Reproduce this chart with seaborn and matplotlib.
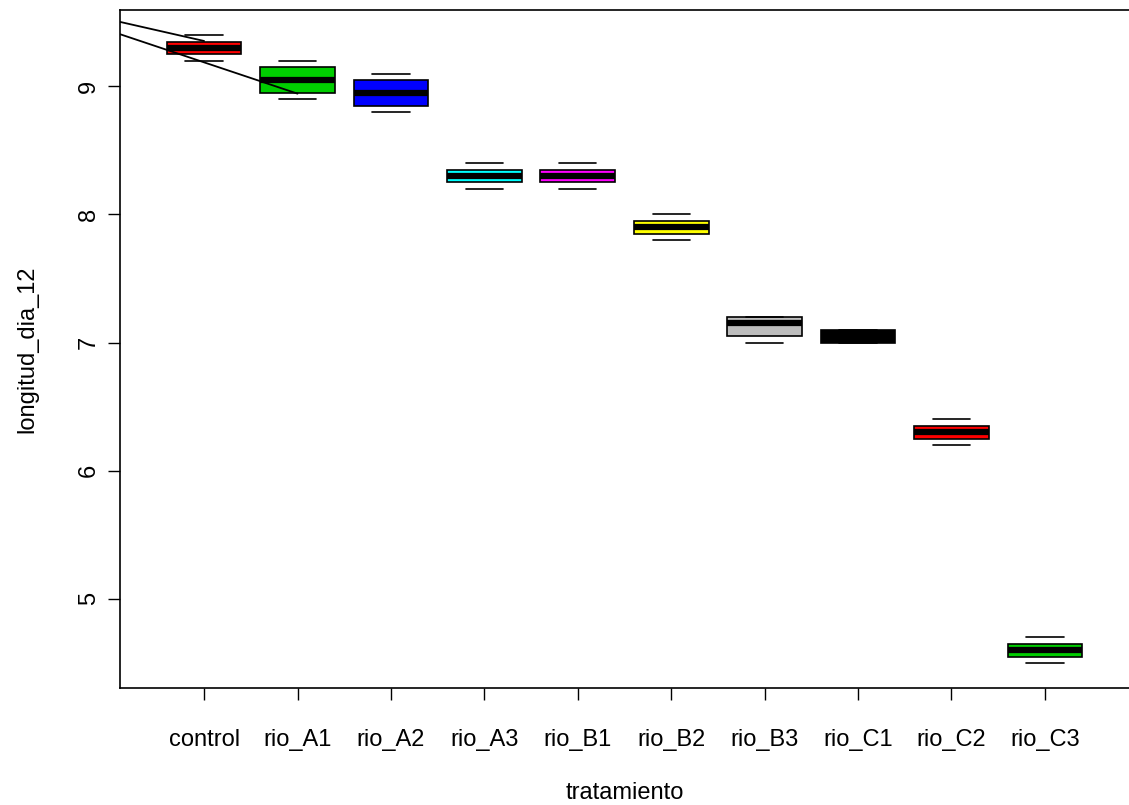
import numpy as np
import pandas as pd
import matplotlib
matplotlib.use("Agg")
import matplotlib.pyplot as plt
import seaborn as sns

# treatments and the five readings per treatment (lower whisker, Q1, median, Q3, upper whisker)
tratamientos = ["control", "rio_A1", "rio_A2", "rio_A3", "rio_B1",
                "rio_B2", "rio_B3", "rio_C1", "rio_C2", "rio_C3"]
control = [9.20, 9.25, 9.30, 9.35, 9.40]
rio_A1 = [8.90, 8.95, 9.05, 9.15, 9.20]
rio_A2 = [8.80, 8.85, 8.95, 9.05, 9.10]
rio_A3 = [8.20, 8.25, 8.30, 8.35, 8.40]
rio_B1 = [8.20, 8.25, 8.30, 8.35, 8.40]
rio_B2 = [7.80, 7.85, 7.90, 7.95, 8.00]
rio_B3 = [7.00, 7.05, 7.15, 7.20, 7.20]
rio_C1 = [7.00, 7.00, 7.05, 7.10, 7.10]
rio_C2 = [6.20, 6.25, 6.30, 6.35, 6.40]
rio_C3 = [4.50, 4.55, 4.60, 4.65, 4.70]

colores = ["#FF0000", "#00CD00", "#0000FF", "#00FFFF", "#FF00FF",
           "#FFFF00", "#BEBEBE", "#000000", "#FF0000", "#00CD00"]

# the two stray lines drawn over the plot (x in category index units)
linea1_x = [-0.9, 0.0]
linea1_y = [9.503, 9.354]
linea2_x = [-0.9, 1.0]
linea2_y = [9.407, 8.943]

valores = [control, rio_A1, rio_A2, rio_A3, rio_B1, rio_B2, rio_B3, rio_C1, rio_C2, rio_C3]
df = pd.DataFrame({
    "tratamiento": np.repeat(tratamientos, [len(v) for v in valores]),
    "longitud_dia_12": np.concatenate(valores),
})

sns.set_style("ticks")
plt.rcParams["font.family"] = ["Liberation Sans", "DejaVu Sans"]
plt.rcParams.update({"text.color": "black", "axes.labelcolor": "black",
                     "xtick.color": "black", "ytick.color": "black"})

fig = plt.figure(figsize=(11.29, 8.05), dpi=100)
ax = fig.add_axes([0.1063, 0.1453, 0.8937, 0.8423])

sns.boxplot(data=df, x="tratamiento", y="longitud_dia_12", hue="tratamiento",
            palette=dict(zip(tratamientos, colores)), order=tratamientos,
            saturation=1, width=0.8, whis=np.inf, showfliers=False,
            linecolor="black", linewidth=1.2, legend=False, ax=ax,
            medianprops=dict(linewidth=4.5, color="black"),
            whiskerprops=dict(linestyle="none"),
            capprops=dict(linewidth=1.2, color="black"))

ax.plot(linea1_x, linea1_y, color="black", lw=1.3)
ax.plot(linea2_x, linea2_y, color="black", lw=1.3)

ax.set_xlim(-0.9, 9.9)
ax.set_ylim(4.304, 9.596)
ax.set_yticks([5, 6, 7, 8, 9])
ax.set_yticklabels(["5", "6", "7", "8", "9"], rotation=90, va="center")
ax.tick_params(axis="both", length=8.6, width=1, color="black", labelsize=17)
ax.tick_params(axis="x", pad=21)
ax.tick_params(axis="y", pad=6)

ax.set_xlabel("tratamiento", fontsize=17, labelpad=22)
ax.set_ylabel("longitud_dia_12", fontsize=17, labelpad=28)

for s in ["left", "bottom", "top"]:
    ax.spines[s].set_color("black")
    ax.spines[s].set_linewidth(1.2)
ax.spines["right"].set_visible(False)

fig.savefig("out.png", dpi=100)
